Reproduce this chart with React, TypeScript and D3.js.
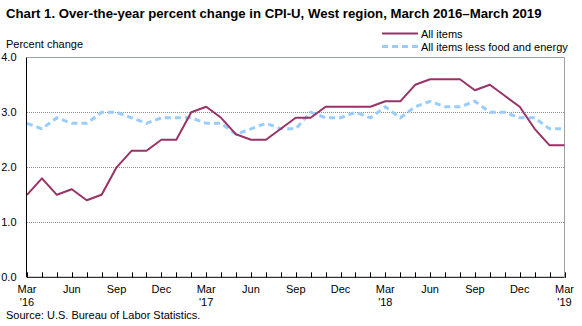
import React from "react";
import * as d3 from "d3";

const months: string[] = [
  "2016-03","2016-04","2016-05","2016-06","2016-07","2016-08","2016-09","2016-10","2016-11","2016-12",
  "2017-01","2017-02","2017-03","2017-04","2017-05","2017-06","2017-07","2017-08","2017-09","2017-10","2017-11","2017-12",
  "2018-01","2018-02","2018-03","2018-04","2018-05","2018-06","2018-07","2018-08","2018-09","2018-10","2018-11","2018-12",
  "2019-01","2019-02","2019-03",
];
const allItems: number[] = [
  1.5, 1.8, 1.5, 1.6, 1.4, 1.5, 2.0, 2.3, 2.3, 2.5,
  2.5, 3.0, 3.1, 2.9, 2.6, 2.5, 2.5, 2.7, 2.9, 2.9, 3.1, 3.1,
  3.1, 3.1, 3.2, 3.2, 3.5, 3.6, 3.6, 3.6, 3.4, 3.5, 3.3, 3.1,
  2.7, 2.4, 2.4,
];
const core: number[] = [
  2.8, 2.7, 2.9, 2.8, 2.8, 3.0, 3.0, 2.9, 2.8, 2.9,
  2.9, 2.9, 2.8, 2.8, 2.6, 2.7, 2.8, 2.7, 2.7, 3.0, 2.9, 2.9,
  3.0, 2.9, 3.1, 2.9, 3.1, 3.2, 3.1, 3.1, 3.2, 3.0, 3.0, 2.9,
  2.9, 2.7, 2.7,
];
const yTicks: number[] = [0, 1, 2, 3, 4];
const seriesNames: string[] = ["All items", "All items less food and energy"];
const title = "Chart 1. Over-the-year percent change in CPI-U, West region, March 2016\u2013March 2019";

const FONT = "'Liberation Sans', Arial, sans-serif";

export default function App() {
  const W = 582, H = 326;
  const left = 27, right = 564.5, top = 57.3, bottom = 277.3;
  const x = d3.scaleLinear().domain([0, months.length - 1]).range([left, right]);
  const y = d3.scaleLinear().domain([0, 4]).range([bottom, top]);
  const line = d3.line<number>().x((_, i) => x(i)).y((d) => y(d));
  const monthName = d3.timeFormat("%b");
  const parse = d3.timeParse("%Y-%m");

  return (
    <svg width={W} height={H} style={{ position: "absolute", left: 0, top: 0, background: "#fff" }} fontFamily={FONT}>
      <text x={6} y={18.3} fontSize={13.2} fontWeight="bold" fill="#000">{title}</text>
      <text x={6} y={48.3} fontSize={11} fill="#000">Percent change</text>
      {/* legend */}
      <line x1={382} x2={418} y1={33.5} y2={33.5} stroke="#993366" strokeWidth={2} />
      <text x={421} y={37.5} fontSize={11}>{seriesNames[0]}</text>
      <line x1={382} x2={418} y1={46.5} y2={46.5} stroke="#99ccff" strokeWidth={3} strokeDasharray="6 4" />
      <text x={421} y={50.5} fontSize={11}>{seriesNames[1]}</text>

      {/* grid */}
      {yTicks.filter((t) => t > 0 && t < 4).map((t) => (
        <line key={t} x1={left} x2={right} y1={Math.round(y(t)) + 0.5} y2={Math.round(y(t)) + 0.5} stroke="#8a8f8a" strokeDasharray="1 1" />
      ))}
      <line x1={left} x2={right} y1={57.5} y2={57.5} stroke="#9ca39c" />
      <line x1={right} x2={right} y1={57.5} y2={bottom} stroke="#9ca39c" />

      {/* y labels */}
      {yTicks.map((t) => (
        <text key={t} x={16.5} y={y(t) + 4} fontSize={11} textAnchor="end">{t.toFixed(1)}</text>
      ))}

      {/* lines */}
      <path d={line(core) || ""} fill="none" stroke="#99ccff" strokeWidth={3} strokeDasharray="6 4" />
      <path d={line(allItems) || ""} fill="none" stroke="#993366" strokeWidth={2} strokeLinejoin="round" />

      {/* axes */}
      <line x1={26.5} x2={26.5} y1={57.5} y2={bottom} stroke="#000" />
      <line x1={left} x2={right} y1={bottom} y2={bottom} stroke="#000" />
      {months.map((m, i) => (
        <line key={m} x1={Math.round(x(i)) + 0.5} x2={Math.round(x(i)) + 0.5} y1={bottom - 5} y2={bottom + 0.5} stroke="#000" />
      ))}
      {months.map((m, i) => {
        if (i % 3 !== 0) return null;
        const d = parse(m)!;
        return (
          <g key={"l" + m}>
            <text x={x(i)} y={292.7} fontSize={11} textAnchor="middle">{monthName(d)}</text>
            {d.getMonth() === 2 && (
              <text x={x(i)} y={305.5} fontSize={11} textAnchor="middle">{"'" + m.slice(2, 4)}</text>
            )}
          </g>
        );
      })}
      <text x={6} y={319} fontSize={11}>Source: U.S. Bureau of Labor Statistics.</text>
    </svg>
  );
}
